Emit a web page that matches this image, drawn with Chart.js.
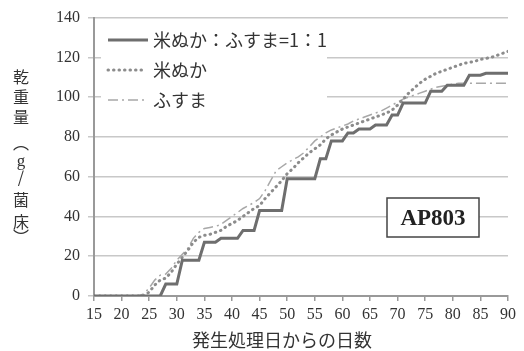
<!DOCTYPE html>
<html>
<head>
<meta charset="utf-8">
<script src="https://cdn.jsdelivr.net/npm/chart.js@4.4.1/dist/chart.umd.min.js"></script>
<style>
  html, body { margin: 0; padding: 0; background: #fff; }
  #wrap { width: 524px; height: 351px; }
</style>
</head>
<body>
<div id="wrap"><canvas id="dryChart" width="524" height="351"></canvas></div>
<script>
// days after treatment
const days = [15, 16, 17, 18, 19, 20, 21, 22, 23, 24, 25, 26, 27, 28, 29, 30, 31, 32, 33, 34,
  35, 36, 37, 38, 39, 40, 41, 42, 43, 44, 45, 46, 47, 48, 49, 50, 51, 52, 53, 54,
  55, 56, 57, 58, 59, 60, 61, 62, 63, 64, 65, 66, 67, 68, 69, 70, 71, 72, 73, 74,
  75, 76, 77, 78, 79, 80, 81, 82, 83, 84, 85, 86, 87, 88, 89, 90];

// 米ぬか：ふすま=1：1
const mixed = [0, 0, 0, 0, 0, 0, 0, 0, 0, 0, 0, 0, 0, 6, 6, 6, 18, 18, 18, 18,
  27, 27, 27, 29, 29, 29, 29, 33, 33, 33, 43, 43, 43, 43, 43, 59, 59, 59, 59, 59,
  59, 69, 69, 78, 78, 78, 82, 82, 84, 84, 84, 86, 86, 86, 91, 91, 97, 97, 97, 97,
  97, 103, 103, 103, 106, 106, 106, 106, 111, 111, 111, 112, 112, 112, 112, 112];

// 米ぬか
const bran = [0, 0, 0, 0, 0, 0, 0, 0, 0, 0, 2, 5.5, 8, 9, 12, 16, 19.5, 23, 27, 29.5,
  30.5, 31, 32, 33, 35, 36.5, 38, 40, 42, 44, 45.5, 49, 52, 55, 58, 61.5, 64, 67, 69.5, 72,
  74, 76, 79, 81, 82.5, 84, 85, 86, 87, 88, 89, 90, 91, 92, 93.5, 96, 99, 102, 104.5, 107,
  109, 110.5, 112, 113, 114, 115, 116, 117, 117.5, 118, 119, 119.5, 120, 121, 122, 123];

// ふすま
const wheat = [0, 0, 0, 0, 0, 0, 0, 0, 0, 1, 4, 8, 10.5, 11, 14, 18, 21, 24, 29, 32,
  34, 34.5, 35, 36, 38, 40, 42, 44, 45.5, 47, 49, 53, 58, 63, 65, 67, 68.5, 70, 72, 75,
  78, 80, 82, 83.5, 84.5, 85.5, 86.5, 88, 89, 90, 91, 92, 93, 94.5, 96, 97.5, 99, 100, 101, 102,
  103, 104, 105, 105.5, 106, 106.5, 107, 107, 107, 107, 107, 107, 107, 107, 107, 107];

const seriesNames = ['米ぬか：ふすま=1：1', '米ぬか', 'ふすま'];
const xTitle = '発生処理日からの日数';
const yTitle = ['乾', '重', '量', '︵', 'g', '/', '菌', '床', '︶'];
const tagText = 'AP803';

const serif = "'Liberation Serif', 'Noto Sans CJK JP', serif";
const jp = "'Noto Sans CJK JP', 'Liberation Serif', sans-serif";

const toPoints = vals => vals.map((v, i) => ({ x: days[i], y: v }));

// legend, axis titles and label box
const extras = {
  id: 'extras',
  afterDraw(chart) {
    const ctx = chart.ctx;
    ctx.save();

    // legend (white box hides gridlines)
    ctx.fillStyle = '#fff';
    ctx.fillRect(101, 25, 226, 88);
    chart.data.datasets.forEach((ds, i) => {
      const y = 40 + i * 30;
      ctx.strokeStyle = ds.borderColor;
      ctx.lineWidth = ds.borderWidth;
      ctx.lineCap = ds.borderCapStyle || 'butt';
      ctx.setLineDash(ds.borderDash || []);
      ctx.beginPath();
      ctx.moveTo(108, y);
      ctx.lineTo(i === 0 ? 148 : 146, y);
      ctx.stroke();
      ctx.setLineDash([]);
      ctx.fillStyle = '#333';
      ctx.font = '18px ' + jp;
      ctx.textAlign = 'left';
      ctx.textBaseline = 'middle';
      ctx.fillText(ds.label, 153, y);
    });

    // y title, stacked
    const yPos = [77, 97, 117, 143, 162, 177, 200, 222, 237];
    ctx.fillStyle = '#333';
    ctx.textAlign = 'center';
    ctx.textBaseline = 'middle';
    yTitle.forEach((c, i) => {
      ctx.font = (c === 'g' ? '17px ' + serif : '16px ' + jp);
      ctx.fillText(c, 21, yPos[i]);
    });

    // x title
    ctx.font = '18px ' + jp;
    ctx.fillText(xTitle, 282, 340);

    // label box
    ctx.fillStyle = '#fff';
    ctx.fillRect(387, 198, 92, 39);
    ctx.strokeStyle = '#444';
    ctx.lineWidth = 1.5;
    ctx.strokeRect(387, 198, 92, 39);
    ctx.fillStyle = '#222';
    ctx.font = 'bold 23px ' + serif;
    ctx.fillText(tagText, 433, 219);

    ctx.restore();
  }
};

const config = {
  type: 'line',
  data: {
    datasets: [
      {
        label: seriesNames[0],
        data: toPoints(mixed),
        borderColor: '#6e6e6e',
        borderWidth: 3,
        pointRadius: 0,
        tension: 0
      },
      {
        label: seriesNames[1],
        data: toPoints(bran),
        borderColor: '#8c8c8c',
        borderWidth: 3,
        borderDash: [0.5, 5],
        borderCapStyle: 'round',
        pointRadius: 0,
        tension: 0
      },
      {
        label: seriesNames[2],
        data: toPoints(wheat),
        borderColor: '#a8a8a8',
        borderWidth: 1.5,
        borderDash: [10, 4, 2, 4],
        pointRadius: 0,
        tension: 0
      }
    ]
  },
  options: {
    responsive: false,
    animation: false,
    layout: { padding: { left: 0, right: 16, top: 16, bottom: 0 } },
    scales: {
      x: {
        type: 'linear',
        min: 15,
        max: 90,
        ticks: {
          stepSize: 5,
          color: '#333',
          padding: 4,
          font: { family: serif, size: 16 }
        },
        grid: { drawOnChartArea: false, tickLength: 5, color: '#999', lineWidth: 1.5 },
        border: { color: '#999', width: 2 },
        afterFit: scale => { scale.height = 55; }
      },
      y: {
        min: 0,
        max: 140,
        ticks: {
          stepSize: 20,
          color: '#333',
          padding: 8,
          font: { family: serif, size: 16 }
        },
        grid: { color: '#c8c8c8', lineWidth: 1.5, tickLength: 6 },
        border: { color: '#999', width: 2 },
        afterFit: scale => { scale.width = 94; }
      }
    },
    plugins: {
      legend: { display: false },
      tooltip: { enabled: false }
    }
  },
  plugins: [extras]
};

const dryChart = new Chart(document.querySelector('#dryChart'), config);
</script>
</body>
</html>
